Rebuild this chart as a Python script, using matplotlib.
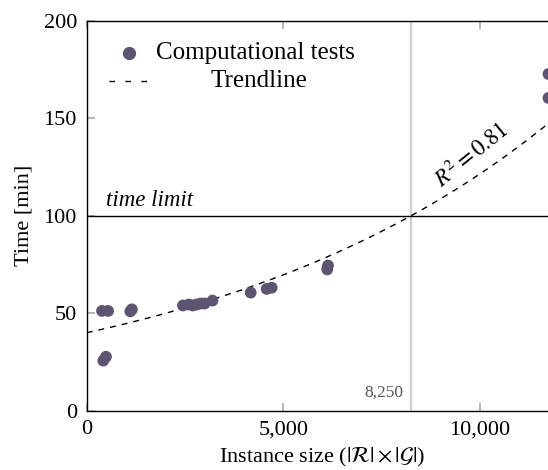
#!/usr/bin/env python3
"""Runtime vs instance size, with exponential trendline and time limit."""

import matplotlib
import numpy as np

matplotlib.use('Agg')
import matplotlib.pyplot as plt
from matplotlib.lines import Line2D

plt.rcParams['font.family'] = ['Liberation Serif', 'DejaVu Serif']
plt.rcParams['mathtext.fontset'] = 'stix'

# Computational tests (instance size, time in minutes)
size = [390, 545, 423, 491, 1110, 1150, 2450, 2600, 2700, 2800, 2900,
        3000, 3200, 4173, 4580, 4707, 6120, 6140, 11750, 11750]
time_min = [51.2, 51.2, 25.7, 27.7, 51.0, 52.0, 54.0, 54.5, 54.0, 54.5, 55.0,
            55.0, 56.5, 60.6, 62.5, 63.1, 72.5, 74.5, 172.8, 160.5]

# Trendline y = a * exp(b * x), R^2 = 0.81
trend_a = 40.0
trend_b = 1.1107e-4
r_squared = 0.81

time_limit = 100
limit_size = 8250

xticks = [0, 5000, 10000]
yticks = [0, 50, 100, 150, 200]

DOT = '#5c5470'
TICK = '#a8a8a8'
FS = 16

fig = plt.figure(figsize=(5.48, 4.70), dpi=100)
ax = fig.add_axes([0.1582, 0.1262, 0.8606, 0.8291])

ax.axvline(limit_size, color='#cfcfcf', lw=1.6, zorder=1)
ax.axhline(time_limit, color='black', lw=1.0, zorder=2)

xs = np.linspace(0, 12000, 300)
ax.plot(xs, trend_a * np.exp(trend_b * xs), color='black', lw=1.0,
        dashes=(4.3, 4.3), zorder=3)

ax.scatter(size, time_min, s=72, color=DOT, edgecolors='none', zorder=4,
           clip_on=False)

ax.set_xlim(0, 12000)
ax.set_ylim(0, 200)
ax.set_xticks(xticks)
ax.set_xticklabels([f'{v:,}' for v in xticks])
ax.set_yticks(yticks)
ax.tick_params(direction='in', length=6, width=1.2, color=TICK,
               top=True, right=True, labelsize=FS, pad=7)
for s in ax.spines.values():
    s.set_linewidth(1.0)

ax.set_xlabel(r'Instance size ($|\mathcal{R}| \times |\mathcal{G}|$)',
              fontsize=FS, labelpad=5)
ax.set_ylabel('Time [min]', fontsize=FS, labelpad=7)

ax.text(480, 102.5, 'time limit', style='italic', fontsize=FS + 0.5,
        ha='left', va='bottom')
ax.text(limit_size - 180, 5, f'{limit_size:,}', fontsize=12.5,
        color='#555555', ha='right', va='bottom')
ax.text(9800, 131, rf'$R^2 = {r_squared}$', fontsize=FS + 0.5, rotation=39,
        rotation_mode='anchor', ha='center', va='center')

# legend drawn by hand so "Trendline" sits centred under the first entry
ax.add_line(Line2D([0.089], [0.917], marker='o', ms=8.5, color=DOT,
                   ls='none', transform=ax.transAxes))
ax.add_line(Line2D([0.047, 0.128], [0.845, 0.845], color='black', lw=1.0,
                   dashes=(4, 7.5), transform=ax.transAxes))
ax.text(0.146, 0.917, 'Computational tests', transform=ax.transAxes,
        fontsize=18, ha='left', va='center')
ax.text(0.366, 0.845, 'Trendline', transform=ax.transAxes,
        fontsize=18, ha='center', va='center')

fig.savefig('out.png', dpi=100)
